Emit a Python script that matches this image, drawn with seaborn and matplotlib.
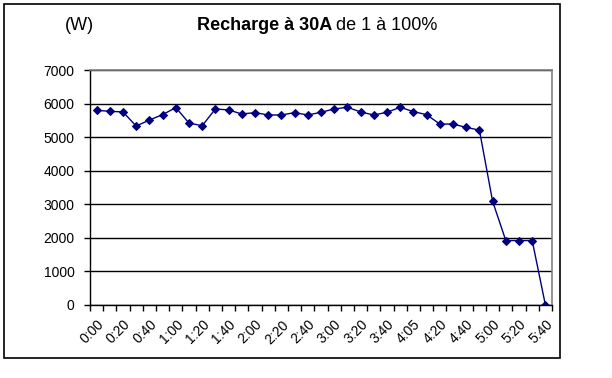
import matplotlib
matplotlib.use("Agg")
import matplotlib.pyplot as plt
import seaborn as sns
import pandas as pd
from matplotlib.patches import Rectangle
from matplotlib.ticker import FixedLocator, MultipleLocator

sns.set_theme(style="white")
plt.rcParams['font.family'] = ['Liberation Sans', 'DejaVu Sans']

times = ["0:00", "0:10", "0:20", "0:30", "0:40", "0:50", "1:00", "1:10", "1:20", "1:30",
         "1:40", "1:50", "2:00", "2:10", "2:20", "2:30", "2:40", "2:50", "3:00", "3:10",
         "3:20", "3:30", "3:40", "3:50", "4:05", "4:10", "4:20", "4:30", "4:40", "4:50",
         "5:00", "5:10", "5:20", "5:30", "5:40"]
power = [5800, 5770, 5750, 5330, 5510, 5670, 5880, 5420, 5340, 5840,
         5810, 5690, 5730, 5660, 5660, 5730, 5660, 5740, 5840, 5890,
         5750, 5660, 5740, 5890, 5760, 5670, 5390, 5390, 5290, 5210,
         3090, 1920, 1920, 1920, 0]

df = pd.DataFrame({"idx": range(len(times)), "time": times, "power": power})

W, H = 612, 378
fig = plt.figure(figsize=(W / 100, H / 100), dpi=100)
ax = fig.add_axes([90 / W, 1 - 305 / H, (552 - 90) / W, (305 - 70) / H])

sns.lineplot(data=df, x="idx", y="power", ax=ax, color="#000080", linewidth=1,
             marker="D", markersize=4, markeredgecolor="#000080", markerfacecolor="#000080")

ax.set_xlim(-0.5, len(times) - 0.5)
ax.set_ylim(0, 7000)
ax.yaxis.set_major_locator(MultipleLocator(1000))
ax.grid(axis="y", color="black", linewidth=1)
ax.set_axisbelow(True)

# x ticks: labels at every other category, tick marks between categories
label_pos = list(range(0, len(times), 2))
ax.xaxis.set_major_locator(FixedLocator(label_pos))
ax.set_xticklabels([times[i] for i in label_pos], rotation=45, ha="right",
                   rotation_mode="anchor", fontsize=10)
ax.xaxis.set_minor_locator(FixedLocator([i - 0.5 for i in range(len(times) + 1)]))
ax.tick_params(axis="x", which="major", length=0, pad=9)
ax.tick_params(axis="x", which="minor", length=4, width=1, color="black", direction="out", bottom=True)
ax.tick_params(axis="y", which="major", length=4, width=1, color="black", direction="out",
               left=True, labelsize=10, pad=7)
for lab in ax.get_yticklabels():
    lab.set_color("black")
for lab in ax.get_xticklabels():
    lab.set_color("black")

ax.set_xlabel("")
ax.set_ylabel("")

for s in ["left", "bottom"]:
    ax.spines[s].set_color("black")
    ax.spines[s].set_linewidth(1)
for s in ["top", "right"]:
    ax.spines[s].set_visible(True)
    ax.spines[s].set_color("#808080")
    ax.spines[s].set_linewidth(1.2)

# outer chart border
fig.patches.append(Rectangle((4 / W, 1 - 358 / H), (560 - 4) / W, (358 - 4) / H,
                             transform=fig.transFigure, fill=False,
                             edgecolor="black", linewidth=1.2))

# title with bold part
fig.canvas.draw()
renderer = fig.canvas.get_renderer()
t1 = fig.text(197 / W, 1 - 25 / H, "Recharge à 30A", fontsize=13, fontweight="bold",
              va="center", ha="left", color="black")
bb = t1.get_window_extent(renderer=renderer)
fig.text((bb.x1 + 4) / W, 1 - 25 / H, "de 1 à 100%", fontsize=13,
         va="center", ha="left", color="black")
fig.text(65 / W, 1 - 25 / H, "(W)", fontsize=13, va="center", ha="left", color="black")

fig.savefig("out.png", dpi=100, facecolor="white")
